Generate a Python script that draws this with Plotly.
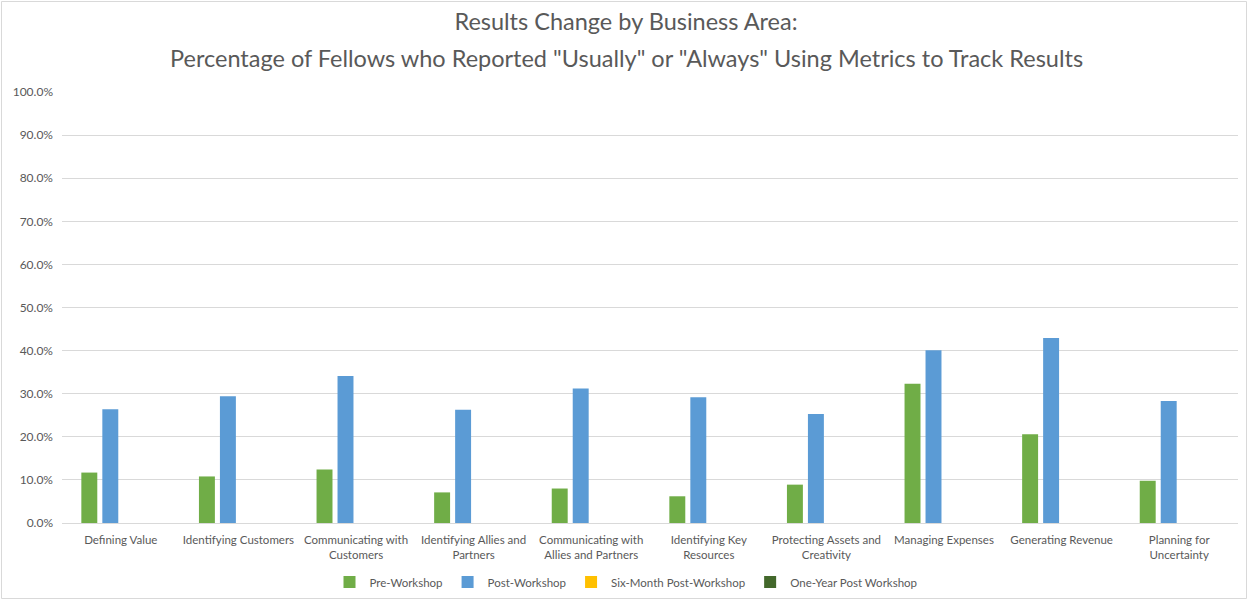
import plotly.graph_objects as go

categories = [
    "Defining Value",
    "Identifying Customers",
    "Communicating with<br>Customers",
    "Identifying Allies and<br>Partners",
    "Communicating with<br>Allies and Partners",
    "Identifying Key<br>Resources",
    "Protecting Assets and<br>Creativity",
    "Managing Expenses",
    "Generating Revenue",
    "Planning for<br>Uncertainty",
]
pre_workshop = [0.117, 0.108, 0.124, 0.071, 0.080, 0.062, 0.089, 0.323, 0.206, 0.098]
post_workshop = [0.264, 0.294, 0.341, 0.263, 0.312, 0.292, 0.253, 0.401, 0.429, 0.283]
six_month = [0, 0, 0, 0, 0, 0, 0, 0, 0, 0]
one_year = [0, 0, 0, 0, 0, 0, 0, 0, 0, 0]

series = [
    ("Pre-Workshop", pre_workshop, "#70AD47"),
    ("Post-Workshop", post_workshop, "#5B9BD5"),
    ("Six-Month Post-Workshop", six_month, "#FFC000"),
    ("One-Year Post Workshop", one_year, "#43682B"),
]
ytick_vals = [i / 10 for i in range(11)]
ytick_text = [f"{v*100:.1f}%" for v in ytick_vals]
title_line1 = "Results Change by Business Area:"
title_line2 = "Percentage of Fellows who Reported \"Usually\" or \"Always\" Using Metrics to Track Results"

fig = go.Figure()
for name, vals, color in series:
    fig.add_trace(go.Bar(
        x=categories, y=vals, name=name,
        marker=dict(color=color, line=dict(width=0)),
    ))

W, H = 1248, 600
ml, mr, mt, mb = 62, 10, 92, 77
pw, ph = W - ml - mr, H - mt - mb
FONT = "Lato, Carlito, Calibri, sans-serif"
cx = 626

fig.update_layout(
    width=W, height=H,
    margin=dict(l=ml, r=mr, t=mt, b=mb, autoexpand=False),
    paper_bgcolor="white", plot_bgcolor="white",
    font=dict(family=FONT, size=11.5, color="#595959"),
    title=dict(
        text=title_line1,
        x=cx / W, xanchor="center", xref="container",
        yref="container", y=1 - 22 / H, yanchor="middle",
        font=dict(size=23.5, color="#595959"),
    ),
    annotations=[dict(
        text=title_line2, xref="paper", yref="paper",
        x=(cx - ml) / pw, xanchor="center", y=(ph + mt - 58) / ph, yanchor="middle",
        showarrow=False, font=dict(size=23.5, color="#595959"),
    )],
    barmode="group", bargap=0.286, bargroupgap=0.24,
    showlegend=True,
    legend=dict(orientation="h", x=cx / W, xanchor="center", xref="container",
                yref="container", y=1 - 582 / H, yanchor="middle",
                font=dict(size=11.5, color="#595959"), itemwidth=30),
    xaxis=dict(showgrid=False, showline=True, linecolor="#D9D9D9", linewidth=1,
               ticks="", tickfont=dict(size=11.5, color="#595959"),
               ticklabelstandoff=6, automargin=False),
    yaxis=dict(range=[0, 1.0], tickvals=ytick_vals, ticktext=ytick_text,
               showgrid=True, gridcolor="#D9D9D9", gridwidth=1, zeroline=False,
               showline=False, ticks="", tickfont=dict(size=12, color="#595959"),
               ticklabelstandoff=8, automargin=False),
    shapes=[dict(type="rect", xref="paper", yref="paper",
                 x0=(1.5 - ml) / pw, x1=(W - 1.5 - ml) / pw,
                 y0=-(mb - 1.5) / ph, y1=(ph + mt - 1.5) / ph,
                 line=dict(color="#D9D9D9", width=1), layer="below")],
)

fig.write_html("out.html")
